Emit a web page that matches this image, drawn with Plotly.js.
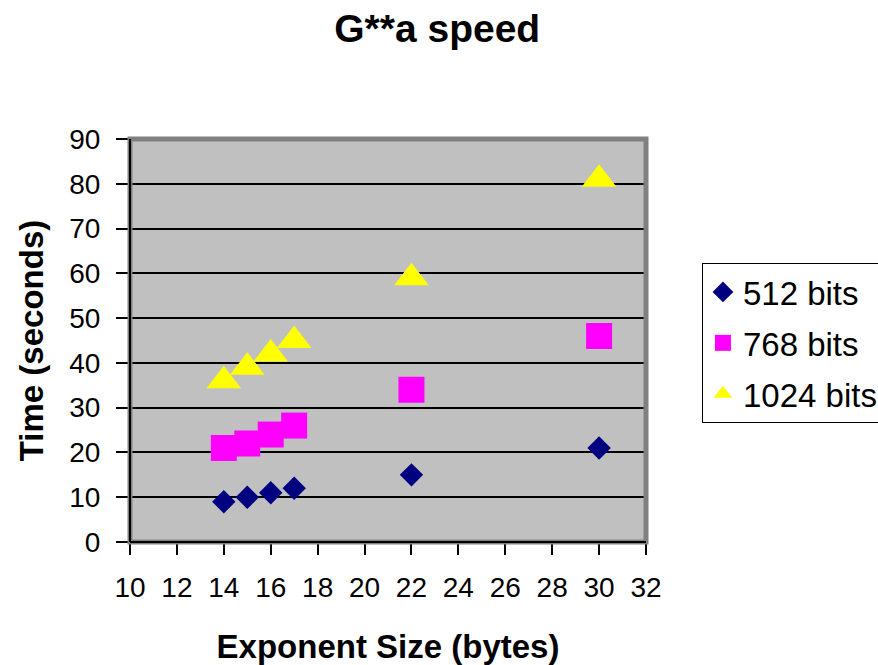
<!DOCTYPE html>
<html>
<head>
<meta charset="utf-8">
<script src="https://cdn.plot.ly/plotly-3.0.1.min.js"></script>
<style>html,body{margin:0;padding:0;background:#fff;}#chart{width:878px;height:665px;}</style>
</head>
<body>
<div id="chart"></div>
<script>
const exponentSizes = [14, 15, 16, 17, 22, 30];
const bits512 = [9, 10, 11, 12, 15, 21];
const bits768 = [21, 22, 24, 26, 34, 46];
const bits1024 = [36, 39, 42, 45, 59, 81];
const seriesNames = ["512 bits", "768 bits", "1024 bits"];

const FONT = "Liberation Sans, Arial, Helvetica, sans-serif";

const traces = [
  {x: exponentSizes, y: bits512, name: seriesNames[0], legendgroup: "a", mode: "markers", type: "scatter",
   marker: {symbol: "diamond", size: 18, color: "#000080"}},
  {x: exponentSizes, y: bits768, name: seriesNames[1], legendgroup: "b", mode: "markers", type: "scatter",
   marker: {symbol: "square", size: 26, color: "#ff00ff"}},
  {x: exponentSizes, y: bits1024, name: seriesNames[2], legendgroup: "c", mode: "markers", type: "scatter",
   marker: {symbol: "triangle-up", size: 30, color: "#ffff00"}}
];

const layout = {
  width: 878, height: 665,
  margin: {l: 130, r: 232, t: 139, b: 123, autoexpand: false},
  paper_bgcolor: "#ffffff",
  plot_bgcolor: "#c0c0c0",
  font: {family: FONT, color: "#000"},
  title: {text: "<b>G**a speed</b>", font: {size: 39, family: FONT}, x: 0.498, xref: "container", y: 0.958, yref: "container", yanchor: "middle", xanchor: "center"},
  xaxis: {
    range: [10, 32], dtick: 2, tick0: 10, autorange: false,
    showgrid: false, zeroline: false,
    showline: true, linecolor: "#000", linewidth: 2,
    ticks: "outside", ticklen: 11, tickcolor: "#000", tickwidth: 2,
    ticklabelstandoff: 8,
    tickfont: {size: 28, family: FONT},
    title: {text: "<b>Exponent Size (bytes)</b>", font: {size: 33, family: FONT}, standoff: 36}
  },
  yaxis: {
    range: [0, 90], dtick: 10, tick0: 0, autorange: false,
    showgrid: true, gridcolor: "#000", gridwidth: 2,
    zeroline: false,
    showline: true, linecolor: "#000", linewidth: 2,
    ticks: "outside", ticklen: 12, tickcolor: "#000", tickwidth: 2,
    ticklabelstandoff: 10,
    tickfont: {size: 28, family: FONT},
    title: {text: "<b>Time (seconds)</b>", font: {size: 33, family: FONT}, standoff: 16}
  },
  showlegend: true,
  legend: {
    xref: "container", yref: "container",
    x: 0.7995, y: 0.6045, xanchor: "left", yanchor: "top",
    bgcolor: "#ffffff", bordercolor: "#000", borderwidth: 1,
    font: {size: 33, family: FONT},
    traceorder: "grouped", tracegroupgap: 5
  },
  shapes: [
    {type: "rect", xref: "paper", yref: "paper", x0: 0, x1: 1, y0: 0, y1: 1,
     line: {color: "#808080", width: 5}, layer: "above"},
    {type: "line", xref: "paper", yref: "paper", x0: 0, x1: 0, y0: 0, y1: 1,
     line: {color: "#000", width: 2}, layer: "above"},
    {type: "line", xref: "paper", yref: "paper", x0: 0, x1: 1, y0: 0, y1: 0,
     line: {color: "#000", width: 2}, layer: "above"}
  ]
};

Plotly.newPlot("chart", traces, layout, {displayModeBar: false, staticPlot: true});
</script>
</body>
</html>
